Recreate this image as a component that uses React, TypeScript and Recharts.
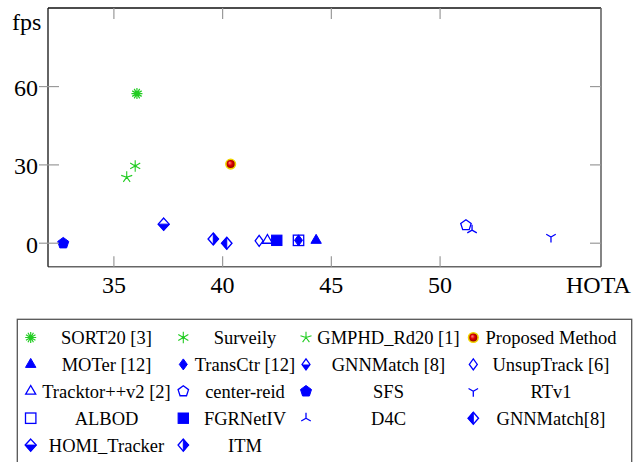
import React from 'react';
import { ScatterChart, Scatter, XAxis, YAxis } from 'recharts';

// ---------- data ----------
const methods = [
  'SORT20 [3]', 'Surveily', 'GMPHD_Rd20 [1]', 'Proposed Method',
  'MOTer [12]', 'TransCtr [12]', 'GNNMatch [8]', 'UnsupTrack [6]',
  'Tracktor++v2 [2]', 'center-reid', 'SFS', 'RTv1',
  'ALBOD', 'FGRNetIV', 'D4C', 'GNNMatch[8]',
  'HOMI_Tracker', 'ITM',
];
const hota = [
  36.06, 35.98, 35.59, 40.37,
  44.3, 43.49, 37.29, 41.68,
  42.06, 51.19, 32.67, 55.1,
  43.49, 42.49, 51.47, 40.19,
  37.29, 39.57,
];
const fps = [
  57.3, 29.6, 25.3, 30.3,
  1.1, 1.1, 7.3, 0.9,
  1.1, 6.9, 0.0, 2.4,
  1.1, 1.1, 5.0, 0.0,
  7.3, 1.6,
];
const xTicks = [35, 40, 45, 50];
const yTicks = [0, 30, 60];
const xLabel = 'HOTA';
const yLabel = 'fps';

// ---------- layout / style ----------
const W = 641;
const H = 462;
const PR = 601, PT = 8, PB = 266.7;
const FONT = "'Liberation Serif', 'Times New Roman', Times, serif";
const BLUE = '#0000ff';
const GREEN = '#22cc22';
const TICK = '#9a9a9a';
const axisText = { fontFamily: FONT, fontSize: 24 };
const legText = { fontFamily: FONT, fontSize: 18.5 };

const rad = (a: number) => (a * Math.PI) / 180;
const spokes = (cx: number, cy: number, r: number, angles: number[]) =>
  angles
    .map((a) => `M${cx} ${cy}L${cx + r * Math.cos(rad(a))} ${cy - r * Math.sin(rad(a))}`)
    .join('');
const poly = (cx: number, cy: number, r: number, n: number, start: number) =>
  Array.from({ length: n }, (_, k) => {
    const a = rad(start + (360 / n) * k);
    return `${cx + r * Math.cos(a)},${cy - r * Math.sin(a)}`;
  }).join(' ');
const diamond = (cx: number, cy: number, w: number, h: number) =>
  `${cx},${cy - h} ${cx + w},${cy} ${cx},${cy + h} ${cx - w},${cy}`;

type Marker = (cx: number, cy: number, gid: string) => React.ReactElement;

const halfDiamond = (cx: number, cy: number, w: number, h: number, side: 'b' | 'l' | 'r') => {
  let pts = '';
  if (side === 'b') pts = `${cx - w},${cy} ${cx + w},${cy} ${cx},${cy + h}`;
  if (side === 'l') pts = `${cx},${cy - h} ${cx - w},${cy} ${cx},${cy + h}`;
  if (side === 'r') pts = `${cx},${cy - h} ${cx + w},${cy} ${cx},${cy + h}`;
  return (
    <g>
      <polygon points={diamond(cx, cy, w, h)} fill="#fff" stroke={BLUE} strokeWidth={1.4} />
      <polygon points={pts} fill={BLUE} stroke={BLUE} strokeWidth={1} />
    </g>
  );
};

const markers: Marker[] = [
  // SORT20
  (cx, cy) => (
    <g>
      <path d={spokes(cx, cy, 5.5, [0, 30, 60, 90, 120, 150, 180, 210, 240, 270, 300, 330])} stroke={GREEN} strokeWidth={1.2} />
      <circle cx={cx} cy={cy} r={1.8} fill={GREEN} />
    </g>
  ),
  // Surveily
  (cx, cy) => (
    <g>
      <path d={spokes(cx, cy, 5.8, [90, 270, 30, 210, 150, 330])} stroke={GREEN} strokeWidth={1.1} />
      <circle cx={cx} cy={cy} r={1.4} fill={GREEN} />
    </g>
  ),
  // GMPHD
  (cx, cy) => <path d={spokes(cx, cy, 5.8, [90, 162, 234, 306, 18])} stroke={GREEN} strokeWidth={1.1} />,
  // Proposed
  (cx, cy, gid) => (
    <g>
      <defs>
        <radialGradient id={gid} cx="0.5" cy="0.5" r="0.5" fx="0.38" fy="0.35">
          <stop offset="0%" stopColor="#ff8a8a" />
          <stop offset="45%" stopColor="#e00000" />
          <stop offset="100%" stopColor="#7a0000" />
        </radialGradient>
      </defs>
      <circle cx={cx} cy={cy} r={4.8} fill={`url(#${gid})`} stroke="#f2d400" strokeWidth={1.6} />
    </g>
  ),
  // MOTer
  (cx, cy) => <polygon points={poly(cx, cy, 6, 3, 90)} fill={BLUE} stroke={BLUE} strokeWidth={1} />,
  // TransCtr
  (cx, cy) => <polygon points={diamond(cx, cy, 4, 5.5)} fill={BLUE} stroke={BLUE} strokeWidth={1} />,
  // GNNMatch [8]
  (cx, cy) => (
    <g>
      <polygon points={diamond(cx, cy, 4, 5.5)} fill="#fff" stroke={BLUE} strokeWidth={1.3} />
      <polygon points={`${cx - 4},${cy} ${cx + 4},${cy} ${cx},${cy + 5.5}`} fill={BLUE} />
    </g>
  ),
  // UnsupTrack
  (cx, cy) => <polygon points={diamond(cx, cy, 4, 5.5)} fill="#fff" stroke={BLUE} strokeWidth={1.3} />,
  // Tracktor
  (cx, cy) => <polygon points={poly(cx, cy, 5.8, 3, 90)} fill="#fff" stroke={BLUE} strokeWidth={1.3} />,
  // center-reid
  (cx, cy) => <polygon points={poly(cx, cy, 5.5, 5, 90)} fill="#fff" stroke={BLUE} strokeWidth={1.3} />,
  // SFS
  (cx, cy) => <polygon points={poly(cx, cy, 5.8, 5, 90)} fill={BLUE} stroke={BLUE} strokeWidth={1} />,
  // RTv1
  (cx, cy) => <path d={spokes(cx, cy, 5.5, [270, 30, 150])} stroke={BLUE} strokeWidth={1.3} />,
  // ALBOD
  (cx, cy) => <rect x={cx - 5.2} y={cy - 5.2} width={10.4} height={10.4} fill="none" stroke={BLUE} strokeWidth={1.3} />,
  // FGRNetIV
  (cx, cy) => <rect x={cx - 5.2} y={cy - 5.2} width={10.4} height={10.4} fill={BLUE} stroke={BLUE} strokeWidth={1} />,
  // D4C
  (cx, cy) => <path d={spokes(cx, cy, 5.5, [90, 210, 330])} stroke={BLUE} strokeWidth={1.3} />,
  // GNNMatch[8]
  (cx, cy) => halfDiamond(cx, cy, 5.2, 6, 'l'),
  // HOMI
  (cx, cy) => halfDiamond(cx, cy, 5.5, 6, 'b'),
  // ITM
  (cx, cy) => halfDiamond(cx, cy, 5.2, 6, 'r'),
];

const series = methods.map((name, i) => ({
  name,
  data: [{ x: hota[i], y: fps[i] }],
  marker: markers[i],
}));

// ---------- ticks ----------
const BottomTick = (p: any) => (
  <g>
    <line x1={p.x} x2={p.x} y1={PB} y2={PB - 10.5} stroke={TICK} strokeWidth={1.2} />
    <text x={p.x} y={293} textAnchor="middle" style={axisText} fill="#000">
      {p.payload.value}
    </text>
  </g>
);
const TopTick = (p: any) => (
  <line x1={p.x} x2={p.x} y1={PT} y2={PT + 11} stroke={TICK} strokeWidth={1.2} />
);
const LeftTick = (p: any) => (
  <g>
    <line x1={39} x2={59} y1={p.y} y2={p.y} stroke={TICK} strokeWidth={1.2} />
    <text x={38} y={p.y + 9.5} textAnchor="end" style={axisText} fill="#000">
      {p.payload.value}
    </text>
  </g>
);
const RightTick = (p: any) => (
  <line x1={PR - 11} x2={PR} y1={p.y} y2={p.y} stroke={TICK} strokeWidth={1.2} />
);

// ---------- legend ----------
const LEG_COLS_MARK = [30.7, 183.3, 306, 473.3];
const LEG_COLS_TEXT = [106.5, 245, 388.5, 551];
const LEG_ROW0 = 337.5;
const LEG_ROW_H = 26.9;

const Overlay = () => (
  <svg width={W} height={H} style={{ position: 'absolute', left: 0, top: 0, pointerEvents: 'none' }}>
    <text x={12} y={30} style={axisText} fill="#000">{yLabel}</text>
    <text x={566} y={293} style={axisText} fill="#000">{xLabel}</text>
    <rect x={17.3} y={319.3} width={614.4} height={160} fill="none" stroke="#555" strokeWidth={1.3} />
    {series.map((s, i) => {
      const col = i % 4;
      const row = Math.floor(i / 4);
      const cy = LEG_ROW0 + row * LEG_ROW_H;
      return (
        <g key={s.name}>
          {s.marker(LEG_COLS_MARK[col], cy, `legball${i}`)}
          <text x={LEG_COLS_TEXT[col]} y={cy + 6.5} textAnchor="middle" style={legText} fill="#000">
            {s.name}
          </text>
        </g>
      );
    })}
  </svg>
);

export default function App() {
  return (
    <div style={{ position: 'absolute', left: 0, top: 0, width: W, height: H, background: '#fff', fontFamily: FONT }}>
      <ScatterChart width={W} height={H} margin={{ top: 4, right: 36, bottom: 163.3, left: 8 }}>
        <XAxis
          xAxisId="b"
          dataKey="x"
          type="number"
          domain={[31.97, 57.4]}
          ticks={xTicks}
          allowDataOverflow
          orientation="bottom"
          height={32}
          axisLine={{ stroke: '#666', strokeWidth: 1.6 }}
          tickLine={false}
          tick={BottomTick}
          interval={0}
        />
        <XAxis
          xAxisId="t"
          dataKey="x"
          type="number"
          domain={[31.97, 57.4]}
          ticks={xTicks}
          allowDataOverflow
          orientation="top"
          height={4}
          axisLine={{ stroke: '#111', strokeWidth: 1.3 }}
          tickLine={false}
          tick={TopTick}
          interval={0}
        />
        <YAxis
          yAxisId="l"
          dataKey="y"
          type="number"
          domain={[-9, 90.1]}
          ticks={yTicks}
          allowDataOverflow
          orientation="left"
          width={40}
          axisLine={{ stroke: '#111', strokeWidth: 1.3 }}
          tickLine={false}
          tick={LeftTick}
          interval={0}
        />
        <YAxis
          yAxisId="r"
          dataKey="y"
          type="number"
          domain={[-9, 90.1]}
          ticks={yTicks}
          allowDataOverflow
          orientation="right"
          width={4}
          axisLine={{ stroke: '#666', strokeWidth: 1.6 }}
          tickLine={false}
          tick={RightTick}
          interval={0}
        />
        {series.map((s, i) => (
          <Scatter
            key={s.name}
            name={s.name}
            data={s.data}
            xAxisId="b"
            yAxisId="l"
            isAnimationActive={false}
            shape={(p: any) => s.marker(p.cx, p.cy, `plotball${i}`)}
          />
        ))}
      </ScatterChart>
      <Overlay />
    </div>
  );
}
